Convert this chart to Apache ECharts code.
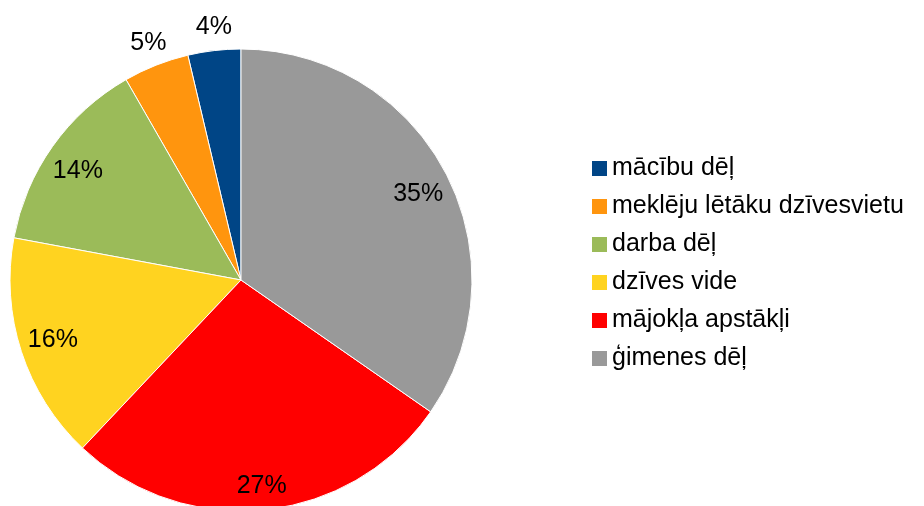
<!DOCTYPE html>
<html>
<head>
<meta charset="utf-8" />
<title>pie</title>
<style>
  body, html { padding: 0; margin: 0; background: #fff; }
</style>
</head>
<body>
<div id="container" style="width: 924px; height: 506px"></div>
<script src="https://cdn.jsdelivr.net/npm/echarts@6/dist/echarts.min.js"></script>
<script>
var names = ['mācību dēļ', 'meklēju lētāku dzīvesvietu', 'darba dēļ', 'dzīves vide', 'mājokļa apstākļi', 'ģimenes dēļ'];
var values = [3.7, 4.6, 13.8, 15.9, 27.4, 34.7];
var colors = ['#004586', '#ff950e', '#9bbb59', '#ffd320', '#ff0000', '#999999'];
// small slices get their label outside the pie
var outside = ['mācību dēļ', 'meklēju lētāku dzīvesvietu'];

var font = 'Liberation Sans, Arial, sans-serif';

function pieData(showOutside) {
  return names.map(function (n, i) {
    var isOut = outside.indexOf(n) >= 0;
    return {
      name: n,
      value: values[i],
      label: { show: showOutside === null ? false : (isOut === showOutside) }
    };
  });
}

// invisible ring used only to place the percentage labels
function labelSeries(center, radius, showOutside) {
  return {
    type: 'pie',
    center: center,
    radius: radius,
    startAngle: 90,
    clockwise: false,
    silent: true,
    percentPrecision: 2,
    itemStyle: { color: 'rgba(0,0,0,0)', borderWidth: 0 },
    label: {
      position: 'inside',
      // each slice rounded on its own, like the original (sums to 101)
      formatter: function (p) { return Math.round(p.percent) + '%'; },
      color: '#000',
      fontFamily: font,
      fontSize: 25
    },
    labelLayout: function (p) {
      // the left-hand label sits a bit higher in the original
      return p.dataIndex === 3 ? { dx: 2, dy: -9 } : {};
    },
    labelLine: { show: false },
    emphasis: { disabled: true },
    data: pieData(showOutside)
  };
}

var chart = echarts.init(document.getElementById('container'));
chart.setOption({
  animation: false,
  backgroundColor: '#fff',
  color: colors,
  legend: {
    orient: 'vertical',
    left: 587,
    top: 151,
    itemWidth: 15,
    itemHeight: 15,
    itemGap: 13,
    icon: 'rect',
    data: names,
    itemStyle: { borderWidth: 0 },
    textStyle: { color: '#000', fontFamily: font, fontSize: 25 }
  },
  series: [
    {
      type: 'pie',
      center: [241, 280],
      radius: [0, 231],
      startAngle: 90,
      clockwise: false,
      itemStyle: { borderColor: '#fff', borderWidth: 1 },
      label: { show: false },
      labelLine: { show: false },
      data: pieData(null)
    },
    labelSeries([241, 287], [162, 232], false),
    labelSeries([244, 285], [232, 282], true)
  ]
});
</script>
</body>
</html>
